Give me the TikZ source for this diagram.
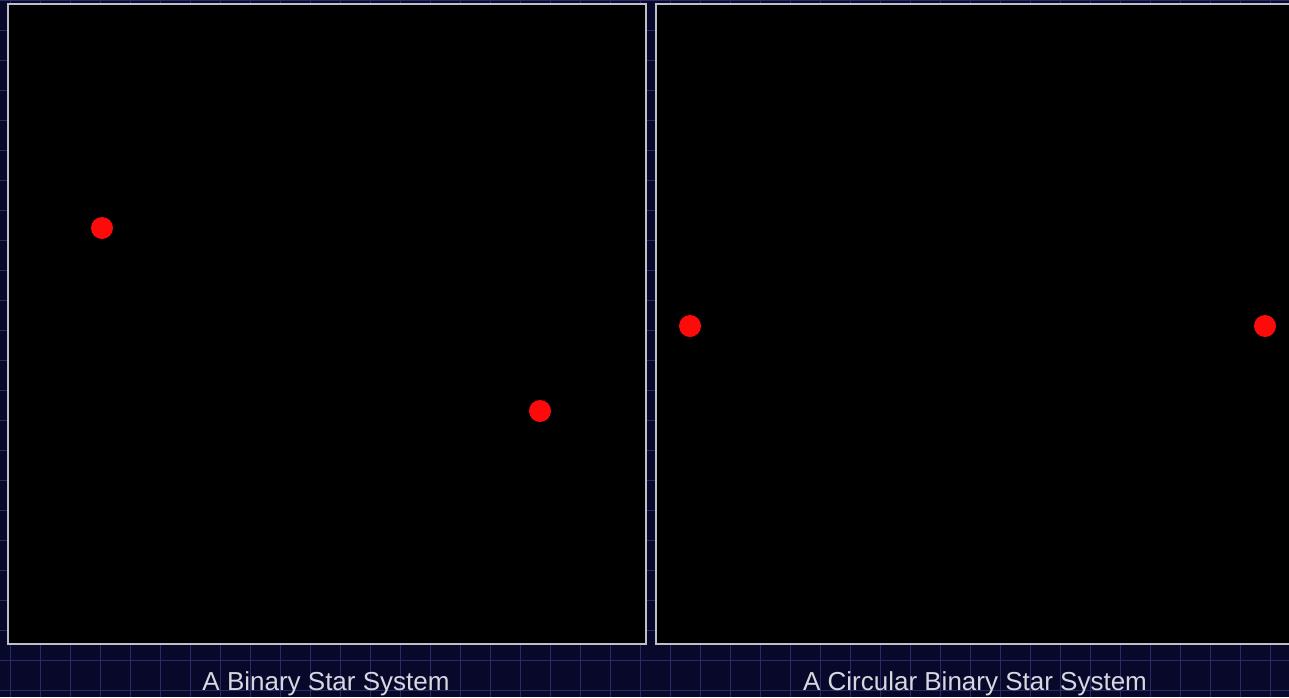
\documentclass[tikz,border=0pt]{standalone}
\usepackage{fontspec}
\setmainfont{Liberation Sans}
\definecolor{bgnavy}{RGB}{8,8,42}
\definecolor{gridnavy}{RGB}{42,42,105}
\definecolor{framegray}{RGB}{190,190,200}
\definecolor{labelgray}{RGB}{215,215,225}
\definecolor{starred}{RGB}{255,10,10}
\tikzset{
  panel/.style={draw=framegray, line width=2pt, fill=black, minimum width=#1, inner sep=0pt, outer sep=0pt, minimum height=640pt, anchor=north west},
  star/.style={circle, fill=starred, minimum size=22pt, inner sep=0pt},
  caption/.style={text=labelgray, font=\fontsize{26}{30}\selectfont, anchor=base}
}
\begin{document}
\begin{tikzpicture}[x=1pt,y=-1pt]
\useasboundingbox (0,0) rectangle (1289,697);
\fill[bgnavy] (0,0) rectangle (1289,697);
\foreach \gx in {10,40,...,1290} \draw[gridnavy, line width=0.8pt] (\gx,0) -- (\gx,697);
\foreach \gy in {0,30,...,697} \draw[gridnavy, line width=0.8pt] (0,\gy) -- (1289,\gy);
\node[panel=638pt] (leftpanel) at (8,4) {};
\node[panel=660pt] (rightpanel) at (656,4) {};
\node[star] (s1) at (102,228) {};
\node[star] (s2) at (540,411) {};
\node[star] (s3) at (690,326) {};
\node[star] (s4) at (1265,326) {};
\node[caption] (cap1) at (326,690) {A Binary Star System};
\node[caption] (cap2) at (975,690) {A Circular Binary Star System};
\end{tikzpicture}
\end{document}
